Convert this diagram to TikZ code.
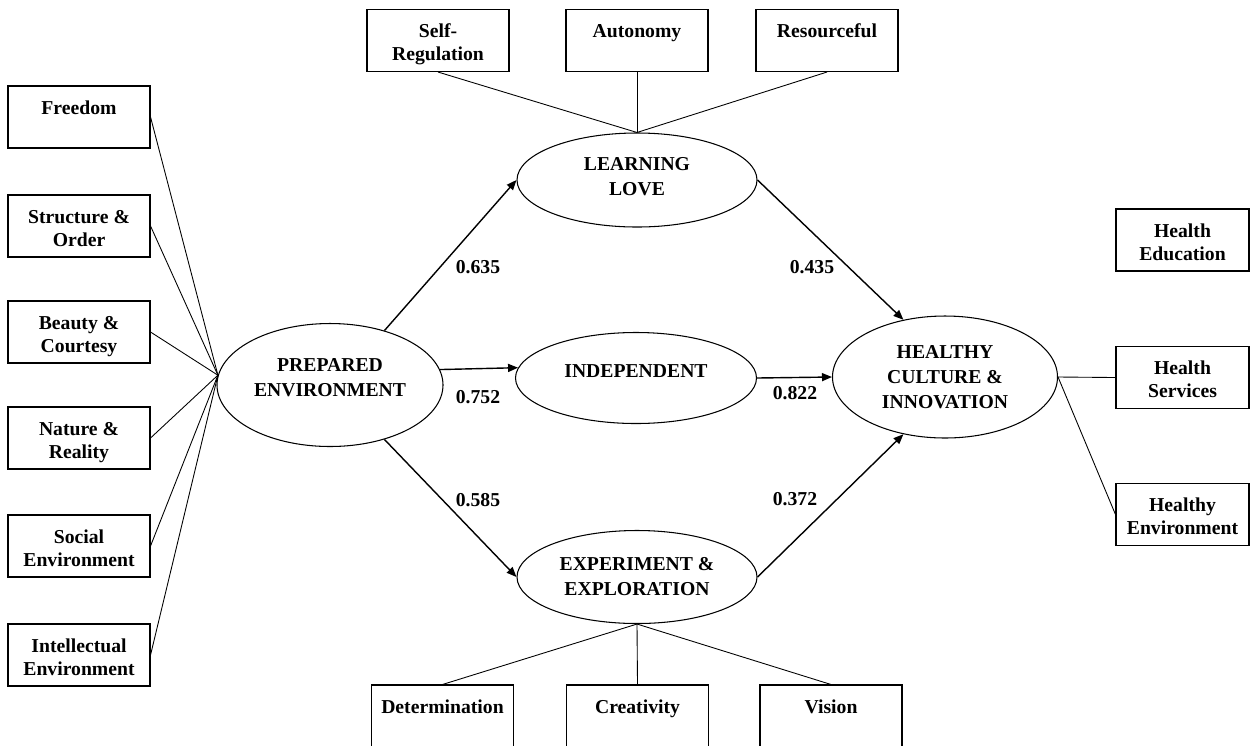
\documentclass[tikz,border=0pt]{standalone}
\usepackage{fontspec}
\setmainfont{Liberation Serif}
\usetikzlibrary{arrows.meta,shapes.geometric}
\newcommand{\boxtxt}[2]{\rule{0pt}{14pt}#1\\#2\strut}
\newcommand{\lift}[1]{\rule[-#1]{0pt}{#1}}

\begin{document}
\begin{tikzpicture}[x=0.2mm,y=-0.2mm,
    every node/.style={font=\bfseries\fontsize{11.2}{13}\selectfont},
    ind/.style={draw, line width=0.6pt, minimum width=28.4mm, minimum height=12.4mm, align=center, inner sep=1pt},
    lat/.style={draw, ellipse, line width=0.6pt, align=center, inner sep=1pt,
      font=\bfseries\fontsize{11.2}{14.2}\selectfont},
    arr/.style={-{Triangle[length=2mm,width=1.6mm]}, line width=0.8pt},
    ln/.style={line width=0.5pt}]
  \useasboundingbox (0,0) rectangle (1253,745);
  % Latent constructs
  \node[lat, minimum width=45.2mm, minimum height=24.6mm] (prep) at (330,385) {PREPARED\\ENVIRONMENT\lift{9pt}};
  \node[lat, minimum width=48mm, minimum height=18.8mm] (learn) at (637,180) {LEARNING\\LOVE\lift{4.5pt}};
  \node[lat, minimum width=48.2mm, minimum height=18.2mm] (indep) at (636,378) {INDEPENDENT\lift{8pt}};
  \node[lat, minimum width=48mm, minimum height=18.6mm] (exp) at (637,577) {EXPERIMENT \&\\EXPLORATION};
  \node[lat, minimum width=45mm, minimum height=24.4mm] (heal) at (945,377) {HEALTHY\\CULTURE \&\\INNOVATION};
  % Indicators of the prepared environment
  \foreach \nm/\yy/\lab in {free/117/{\boxtxt{Freedom}{}}, struct/226/{\boxtxt{Structure \&}{Order}},
      beauty/332/{\boxtxt{Beauty \&}{Courtesy}}, nature/438/{\boxtxt{Nature \&}{Reality}},
      social/546/{\boxtxt{Social}{Environment}}, intel/655/{\boxtxt{Intellectual}{Environment}}} {
    \node[ind] (\nm) at (79,\yy) {\lab};
    \draw[ln] (\nm.east) -- (prep.175);
  }
  % Indicators of learning love
  \foreach \nm/\xx/\lab in {selfreg/438/{\boxtxt{Self-}{Regulation}}, auton/637/{\boxtxt{Autonomy}{}},
      resour/827/{\boxtxt{Resourceful}{}}} {
    \node[ind] (\nm) at (\xx,40.5) {\lab};
    \draw[ln] (\nm.south) -- (learn.north);
  }
  % Indicators of experiment & exploration
  \foreach \nm/\xx/\lab in {determ/442.5/{\boxtxt{Determination}{}}, creat/637.5/{\boxtxt{Creativity}{}},
      vision/831/{\boxtxt{Vision}{}}} {
    \node[ind] (\nm) at (\xx,716) {\lab};
    \draw[ln] (\nm.north) -- (exp.south);
  }
  % Indicators of healthy culture
  \node[ind, minimum width=26.6mm] (heduc) at (1182.5,240) {\boxtxt{Health}{Education}};
  \node[ind, minimum width=26.6mm] (hserv) at (1182.5,377.5) {\boxtxt{Health}{Services}};
  \node[ind, minimum width=26.6mm] (henv) at (1182.5,514.5) {\boxtxt{Healthy}{Environment}};
  \draw[ln] (heal.east) -- (hserv.west);
  \draw[ln] (heal.east) -- (henv.west);
  % Paths
  \draw[arr] (prep.45) -- (learn.west);
  \draw[arr] (prep.8) -- (indep.175);
  \draw[arr] (prep.-45) -- (exp.west);
  \draw[arr] (learn.east) -- (heal.126);
  \draw[arr] (indep.east) -- (heal.west);
  \draw[arr] (exp.east) -- (heal.234);
  % Path coefficients
  \node (w635) at (478,267) {0.635};
  \node (w752) at (478,397) {0.752};
  \node (w585) at (478,500) {0.585};
  \node (w435) at (812,267) {0.435};
  \node (w822) at (795,393) {0.822};
  \node (w372) at (795,499) {0.372};
\end{tikzpicture}
\end{document}
